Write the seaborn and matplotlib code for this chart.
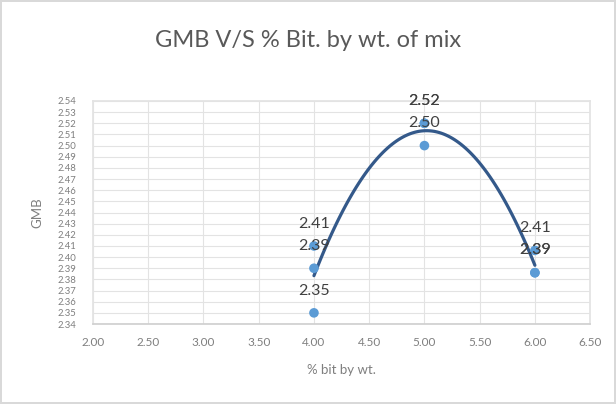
import matplotlib
matplotlib.use("Agg")
import matplotlib.pyplot as plt
import seaborn as sns
import numpy as np
import pandas as pd

bitumen = [4.0, 4.0, 4.0, 5.0, 5.0, 5.0, 6.0, 6.0, 6.0]
gmb = [2.41, 2.39, 2.35, 2.52, 2.52, 2.50, 2.406, 2.386, 2.386]
x_ticks = [2.00, 2.50, 3.00, 3.50, 4.00, 4.50, 5.00, 5.50, 6.00, 6.50]
y_ticks = [round(2.34 + 0.01 * i, 2) for i in range(21)]

df = pd.DataFrame({"bit": bitumen, "gmb": gmb})

sns.set_theme(style="white")
plt.rcParams["font.family"] = ["Lato", "DejaVu Sans"]

fig = plt.figure(figsize=(6.16, 4.04), dpi=100)
fig.patch.set_edgecolor("#d9d9d9")
fig.patch.set_linewidth(1.5)
ax = fig.add_axes([0.151, 0.198, 0.807, 0.552])

sns.regplot(data=df, x="bit", y="gmb", order=2, ci=None, scatter=False,
            truncate=True, ax=ax, line_kws=dict(color="#34598a", lw=2.3, zorder=3))
sns.scatterplot(data=df, x="bit", y="gmb", ax=ax, color="#5b9bd5", s=48,
                edgecolor="none", zorder=4)

for xv, yv in zip(bitumen, gmb):
    ax.annotate(f"{yv:.2f}", (xv, yv), xytext=(0, 11), textcoords="offset points",
                ha="center", va="bottom", fontsize=11.5, color="#404040", zorder=5)

ax.set_xlim(2.0, 6.5)
ax.set_ylim(2.34, 2.54)
ax.set_xticks(x_ticks)
ax.set_xticklabels([f"{v:.2f}" for v in x_ticks], fontsize=8.5, color="#7f7f7f")
ax.set_yticks(y_ticks)
ax.set_yticklabels([f"{v:.2f}" for v in y_ticks], fontsize=6.8, color="#7f7f7f")
ax.tick_params(axis="both", length=0)
ax.tick_params(axis="y", pad=12)
ax.tick_params(axis="x", pad=9)
ax.grid(True, color="#e3e3e3", lw=0.8)
ax.set_axisbelow(True)
for side in ["top", "right", "left"]:
    ax.spines[side].set_color("#e3e3e3")
ax.spines["bottom"].set_color("#d0d0d0")

ax.set_xlabel("% bit by wt.", fontsize=9.5, color="#7f7f7f", labelpad=12)
ax.set_ylabel("GMB", fontsize=9.5, color="#7f7f7f", labelpad=10)
fig.text(0.5, 0.9, "GMB V/S % Bit. by wt. of mix", ha="center", va="center",
         fontsize=17, color="#595959")

fig.savefig("out.png", dpi=100)
